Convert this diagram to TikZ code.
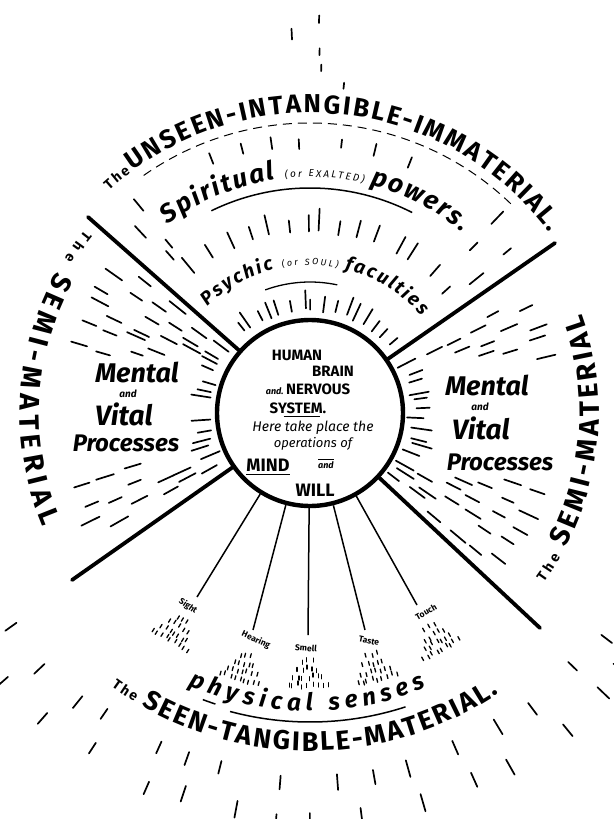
\documentclass[tikz,border=0pt]{standalone}
\usepackage{fontspec}
\setmainfont{Fira Sans}
\usetikzlibrary{positioning}
\usetikzlibrary{decorations.text}

\begin{document}
\begin{tikzpicture}[x=1pt, y=1pt,
    every node/.style={inner sep=0pt},
    spoke/.style={line width=3.8pt, line cap=round},
    senseline/.style={line width=1.5pt},
    ray/.style={line width=1.7pt, line cap=round},
    spray/.style={line width=1.3pt, line cap=round},
    caps/.style={font=\bfseries\fontsize{#1}{#1}\selectfont},
    script/.style={font=\bfseries\itshape\fontsize{#1}{#1}\selectfont},
    thin script/.style={font=\itshape\fontsize{#1}{#1}\selectfont},
    sensename/.style={font=\bfseries\fontsize{8.5}{8.5}\selectfont}]

        \useasboundingbox (0,0) rectangle (613,-819);
        \fill[white] (0,0) rectangle (613,-819);

        % Repeatable jitter for the strokes
        \pgfmathsetseed{11}

        % Brain circle
        \node[circle, draw, line width=4.4pt, minimum size=186pt] (brain) at (310,-413) {};

        % Four spokes out of the circle
        \coordinate (spokeul) at (88,-217);
        \coordinate (spokeur) at (555,-243);
        \coordinate (spokell) at (72,-580);
        \coordinate (spokelr) at (540,-628);
        \foreach \e in {spokeul,spokeur,spokell,spokelr}
          \draw[spoke] (brain) -- (\e);

        % Text inside the circle
        \node[caps=15] (human) at (297,-355) {HUMAN};
        \node[caps=15] (brainword) at (333,-371) {BRAIN};
        \node[caps=15] (nervous) at (308,-389) {{\itshape\fontsize{9}{9}\selectfont and.}\,NERVOUS};
        \node[caps=15] (system) at (298,-408) {SYSTEM.};
        \node[thin script=14] (here) at (313,-428) {Here take place the};
        \node[thin script=13] (operations) at (313,-444) {operations of};
        \node[caps=18] (mind) at (268,-465) {MIND};
        \node[script=9] (andword) at (326,-465) {and};
        \node[caps=18] (will) at (315,-490) {WILL};
        \draw[line width=1.2pt] ([shift={(14pt,-3pt)}]system.south west) -- ([shift={(-6pt,-3pt)}]system.south east);
        \draw[line width=1.6pt] ([yshift=-3pt]mind.south west) -- ([yshift=-3pt]mind.south east);
        \draw[line width=1.2pt] ([yshift=2pt]andword.north west) -- ([yshift=2pt]andword.north east);

        % Side sectors
        \node[script=27] (mentalleft) at (137,-372) {Mental};
        \node[script=10] (andleft) at (128,-394) {and};
        \node[script=28] (vitalleft) at (124,-414) {Vital};
        \node[script=24] (procleft) at (126,-443) {Processes};
        \node[script=27] (mentalright) at (487,-385) {Mental};
        \node[script=10] (andright) at (480,-407) {and};
        \node[script=28] (vitalright) at (481,-428) {Vital};
        \node[script=24] (procright) at (500,-462) {Processes};

        % Lines to the five senses
        \coordinate (sightend) at (197,-597);
        \coordinate (hearingend) at (253,-630);
        \coordinate (smellend) at (308,-635);
        \coordinate (tasteend) at (365,-630);
        \coordinate (touchend) at (417,-605);
        \foreach \e in {sightend,hearingend,smellend,tasteend,touchend}
          \draw[senseline] (brain) -- (\e);
        \node[sensename, rotate=-35] (sight) at (188,-606) {Sight};
        \node[sensename, rotate=-25] (hearing) at (256,-640) {Hearing};
        \node[sensename, rotate=-5] (smell) at (306,-648) {Smell};
        \node[sensename, rotate=-12] (taste) at (369,-641) {Taste};
        \node[sensename, rotate=30] (touch) at (426,-612) {Touch};

        % Spray below each sense
        \foreach \s/\t in {sightend/238,hearingend/255,smellend/270,tasteend/284,touchend/299} {
          \begin{scope}[shift={(\s)}, rotate=\t]
            \foreach \k in {1,...,4} {
              \foreach \j in {-\k,...,\k} {
                \pgfmathsetmacro{\dx}{16+8*\k+2*rand}
                \pgfmathsetmacro{\dy}{5*\j+1.5*rand}
                \draw[spray] (\dx,\dy) -- (\dx+4,\dy);
              }
            }
          \end{scope}
        }

        \begin{scope}[shift={(310,-413)}]
          % Lettering round the rim
          \path[decorate, decoration={text along path, text align={fit to path},
              text={|\bfseries\fontsize{14}{14}\selectfont|The|\bfseries\fontsize{26}{26}\selectfont|UNSEEN-INTANGIBLE-IMMATERIAL.}}]
            (132:300) arc[start angle=132, end angle=37, radius=300];
          \path[decorate, decoration={text along path, text align={fit to path},
              text={|\bfseries\fontsize{14}{14}\selectfont|The |\bfseries\fontsize{27}{27}\selectfont|SEEN-TANGIBLE-MATERIAL.}}]
            (234:338) arc[start angle=234, end angle=304, radius=338];
          \path[decorate, decoration={text along path, text align={fit to path},
              text={|\bfseries\fontsize{14}{14}\selectfont|The |\bfseries\fontsize{28}{28}\selectfont|SEMI-MATERIAL}}]
            (141:290) arc[start angle=141, end angle=203, radius=290];
          \path[decorate, decoration={text along path, text align={fit to path},
              text={|\bfseries\fontsize{14}{14}\selectfont|The |\bfseries\fontsize{28}{28}\selectfont|SEMI-MATERIAL}}]
            (-36:289) arc[start angle=-36, end angle=20, radius=289];

          % Upper bands
          \path[decorate, decoration={text along path, text align={fit to path},
              text={|\bfseries\itshape\fontsize{26}{26}\selectfont|Spiritual |\itshape\fontsize{10}{10}\selectfont|(or EXALTED) |\bfseries\itshape\fontsize{26}{26}\selectfont|powers.}}]
            (127:236) arc[start angle=127, end angle=50, radius=236];
          \path[decorate, decoration={text along path, text align={fit to path},
              text={|\bfseries\itshape\fontsize{19}{19}\selectfont|Psychic |\itshape\fontsize{9}{9}\selectfont|(or SOUL) |\bfseries\itshape\fontsize{19}{19}\selectfont|faculties}}]
            (134:148) arc[start angle=134, end angle=41, radius=148];
          \draw[line width=1pt, dash pattern=on 9pt off 6pt] (125:290) arc[start angle=125, end angle=45, radius=290];
          \draw[line width=1.5pt] (116:225) arc[start angle=116, end angle=63, radius=225];
          \draw[line width=1.3pt] (110:131) arc[start angle=110, end angle=78, radius=131];

          % Lower band
          \path[decorate, decoration={text along path, text align={fit to path},
              text={|\bfseries\itshape\fontsize{24}{24}\selectfont|physical senses}}]
            (246:298) arc[start angle=246, end angle=293, radius=298];
          \draw[line width=1.5pt] (255:309) arc[start angle=255, end angle=288, radius=309];
          \draw[line width=1.5pt] (249.5:306) arc[start angle=249.5, end angle=252, radius=306];

          % Rays, top sector
          \foreach \a in {40,46,...,134} {
            \pgfmathsetmacro{\aa}{\a+2*rand}
            \pgfmathsetmacro{\rs}{101+5*rnd}
            \pgfmathsetmacro{\re}{\rs+10+10*rnd}
            \draw[ray] (\aa:\rs) -- (\aa:\re);
          }
          \foreach \a in {50,56,...,128} {
            \pgfmathsetmacro{\aa}{\a+2*rand}
            \pgfmathsetmacro{\rs}{180+6*rnd}
            \pgfmathsetmacro{\re}{\rs+12+10*rnd}
            \draw[ray] (\aa:\rs) -- (\aa:\re);
          }
          \foreach \a in {70,77,...,112} {
            \pgfmathsetmacro{\aa}{\a+2*rand}
            \pgfmathsetmacro{\rs}{264+4*rnd}
            \pgfmathsetmacro{\re}{\rs+8+6*rnd}
            \draw[ray] (\aa:\rs) -- (\aa:\re);
          }
          \foreach \a/\r in {129/215,133/240,129/262,133/205,40/205,45/228,40/250,46/262,42/178} {
            \pgfmathsetmacro{\aa}{\a+1.5*rand}
            \pgfmathsetmacro{\re}{\r+10+8*rnd}
            \draw[ray] (\aa:\r) -- (\aa:\re);
          }

          % Trail above the title
          \foreach \r in {326,342,...,396} {
            \pgfmathsetmacro{\aa}{88+5*rand}
            \pgfmathsetmacro{\re}{\r+6+6*rnd}
            \draw[ray] (\aa:\r) -- (\aa:\re);
          }

          % Rays, left and right sectors
          \foreach \a in {143,148,...,208,-38,-33,...,30} {
            \foreach \r in {102,128,...,232} {
              \pgfmathsetmacro{\aa}{\a+2*rand}
              \pgfmathsetmacro{\rs}{\r+5*rand}
              \pgfmathsetmacro{\re}{\rs+12+9*rnd}
              \pgfmathsetmacro{\px}{310+(\rs+8)*cos(\aa)}
              \pgfmathsetmacro{\py}{413-(\rs+8)*sin(\aa)}
              \pgfmathtruncatemacro{\inbox}{((\px>52)&&(\px<200)&&(\py>355)&&(\py<465))||((\px>425)&&(\px<572)&&(\py>362)&&(\py<478))}
              \ifnum\inbox=0
                \draw[ray] (\aa:\rs) -- (\aa:\re);
              \fi
            }
          }

          % Rays below the lower lettering
          \foreach \a in {216,223,...,330} {
            \foreach \r in {362,398} {
              \pgfmathsetmacro{\aa}{\a+2.5*rand}
              \pgfmathsetmacro{\rs}{\r+5*rand}
              \pgfmathsetmacro{\re}{\rs+12+6*rnd}
              \draw[ray] (\aa:\rs) -- (\aa:\re);
            }
          }
        \end{scope}

      \end{tikzpicture}
\end{document}
